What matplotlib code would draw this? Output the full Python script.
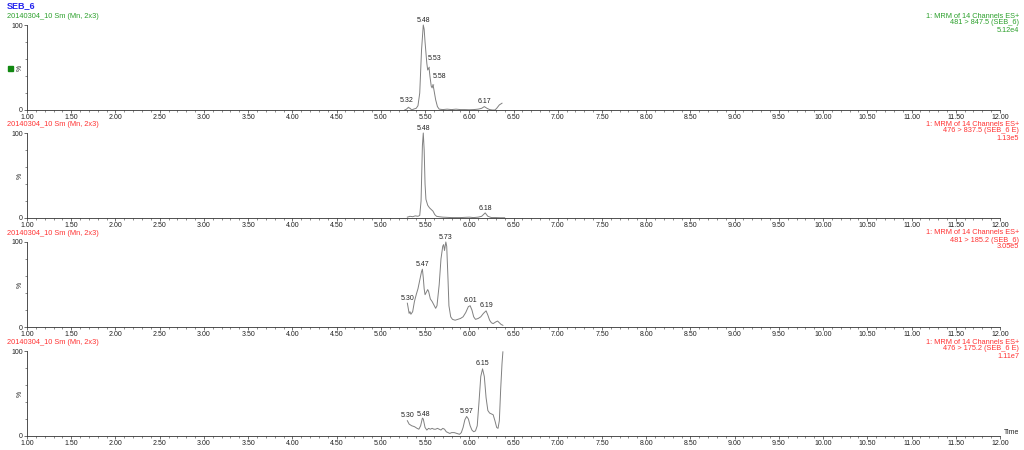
import matplotlib
matplotlib.use("Agg")
import matplotlib.pyplot as plt
from matplotlib.ticker import MultipleLocator, FixedLocator

plt.rcParams['font.family'] = ['Liberation Sans', 'DejaVu Sans']

# ---------------- data ----------------
title = "SEB_6"
sample_label = "20140304_10 Sm (Mn, 2x3)"
channel_lines = [
    ("1: MRM of 14 Channels ES+", "481 > 847.5 (SEB_6)", "5.12e4"),
    ("1: MRM of 14 Channels ES+", "476 > 837.5 (SEB_6 E)", "1.13e5"),
    ("1: MRM of 14 Channels ES+", "481 > 185.2 (SEB_6)", "3.05e5"),
    ("1: MRM of 14 Channels ES+", "476 > 175.2 (SEB_6 E)", "1.11e7"),
]
header_colors = ["#2ca02c", "#ff3333", "#ff3333", "#ff3333"]

t1 = [5.27, 5.29, 5.31, 5.33, 5.35, 5.37, 5.40, 5.42, 5.44, 5.46, 5.48, 5.49, 5.50, 5.52,
      5.53, 5.545, 5.555, 5.57, 5.58, 5.59, 5.60, 5.62, 5.64, 5.66, 5.70, 5.75, 5.80, 5.85,
      5.90, 5.95, 6.00, 6.05, 6.10, 6.14, 6.17, 6.20, 6.23, 6.26, 6.29, 6.31, 6.34, 6.37]
v1 = [0, 1, 3, 2, 0, 1, 2, 5, 20, 70, 100, 95, 80, 55,
      47, 50, 40, 28, 26, 30, 24, 12, 4, 1, 0.5, 1, 0.5, 1,
      0.5, 0.5, 0.3, 0.5, 1, 2, 4, 2, 0.5, 0, 0, 2, 6, 8]

t2 = [5.30, 5.33, 5.36, 5.39, 5.42, 5.44, 5.455, 5.47, 5.48, 5.49, 5.50, 5.51, 5.53, 5.55,
      5.57, 5.59, 5.61, 5.63, 5.66, 5.70, 5.80, 5.90, 6.00, 6.05, 6.10, 6.14, 6.18, 6.21,
      6.25, 6.30, 6.35, 6.40]
v2 = [1, 2, 1.5, 2.5, 2, 3, 20, 85, 100, 80, 40, 22, 15, 12,
      10, 8, 4, 2, 1.5, 1, 0.5, 0.5, 1, 0.5, 1, 2, 6, 2,
      0.5, 0.5, 0.3, 0.3]

t3 = [5.30, 5.31, 5.32, 5.33, 5.34, 5.36, 5.38, 5.40, 5.42, 5.44, 5.46, 5.47, 5.48, 5.49,
      5.50, 5.51, 5.53, 5.54, 5.56, 5.58, 5.60, 5.62, 5.635, 5.66, 5.68, 5.70, 5.71, 5.72,
      5.735, 5.745, 5.76, 5.77, 5.79, 5.81, 5.84, 5.87, 5.90, 5.93, 5.96, 5.99, 6.01, 6.03,
      6.05, 6.07, 6.10, 6.13, 6.16, 6.19, 6.21, 6.23, 6.25, 6.27, 6.30, 6.32, 6.34, 6.36, 6.38]
v3 = [28, 22, 16, 18, 15, 18, 30, 38, 45, 55, 65, 68, 58, 45,
      38, 40, 44, 42, 33, 30, 26, 22, 25, 50, 80, 95, 97, 90,
      100, 95, 55, 25, 12, 9, 8, 9, 10, 12, 17, 24, 25, 20,
      12, 9, 10, 12, 16, 19, 14, 8, 5, 4, 6, 7, 5, 3, 2]

t4 = [5.30, 5.32, 5.35, 5.38, 5.41, 5.43, 5.45, 5.47, 5.48, 5.50, 5.52, 5.54, 5.56, 5.58,
      5.60, 5.62, 5.64, 5.66, 5.68, 5.70, 5.72, 5.74, 5.76, 5.78, 5.80, 5.83, 5.86, 5.89,
      5.91, 5.93, 5.95, 5.97, 5.99, 6.01, 6.03, 6.05, 6.07, 6.09, 6.11, 6.13, 6.15, 6.17,
      6.19, 6.21, 6.23, 6.25, 6.27, 6.29, 6.31, 6.325, 6.34, 6.355, 6.37, 6.38]
v4 = [18, 14, 12, 11, 9, 8, 12, 21, 20, 10, 7, 9, 8, 9,
      8, 8, 9, 8, 7, 9, 8, 5, 4, 3, 4, 4, 3, 2,
      4, 10, 19, 23, 20, 12, 7, 5, 6, 12, 40, 70, 79, 70,
      45, 30, 27, 26, 25, 18, 10, 9, 18, 55, 85, 99]

peaks1_t = [5.32, 5.48, 5.53, 5.58, 6.17]
peaks1_v = [2, 100, 47, 26, 4]
peaks2_t = [5.48, 6.18]
peaks2_v = [100, 6]
peaks3_t = [5.30, 5.47, 5.73, 6.01, 6.19]
peaks3_v = [28, 68, 100, 25, 19]
peaks4_t = [5.30, 5.48, 5.97, 6.15]
peaks4_v = [18, 20, 23, 79]

series = [(t1, v1), (t2, v2), (t3, v3), (t4, v4)]
peaks = [(peaks1_t, peaks1_v), (peaks2_t, peaks2_v), (peaks3_t, peaks3_v), (peaks4_t, peaks4_v)]
# label offsets (points) for a few shifted labels
label_offsets = {(0, 5.53): (5, 6), (0, 5.58): (5, 6), (0, 5.32): (-2, 3)}

x_major = [1.0 + 0.5 * i for i in range(23)]

# ---------------- figure ----------------
W, H = 1024, 450
fig = plt.figure(figsize=(W / 100, H / 100), dpi=100)

left = 27 / W
width = 973 / W
tops = [25, 133, 242, 351]
ph = 85
line_col = "#808080"
axis_col = "#333333"
fs = 5.0
hfs = 5.3

for i, ((t, v), (pt, pv)) in enumerate(zip(series, peaks)):
    top = tops[i]
    ax = fig.add_axes([left, 1 - (top + ph) / H, width, ph / H])
    ax.patch.set_alpha(0)
    ax.plot(t, v, color=line_col, lw=0.7, clip_on=False)
    ax.set_xlim(1.0, 12.0)
    ax.set_ylim(0, 100)
    for s in ["top", "right"]:
        ax.spines[s].set_visible(False)
    for s in ["left", "bottom"]:
        ax.spines[s].set_color(axis_col)
        ax.spines[s].set_linewidth(0.6)
    ax.xaxis.set_major_locator(FixedLocator(x_major))
    ax.set_xticklabels([f"{x:.2f}" for x in x_major])
    ax.xaxis.set_minor_locator(MultipleLocator(0.1))
    ax.set_yticks([0, 100])
    ax.set_yticklabels(["0", "100"])
    ax.yaxis.set_minor_locator(MultipleLocator(20))
    ax.tick_params(axis="both", which="major", labelsize=fs, length=2.5, width=0.5,
                   color=axis_col, pad=0.5, labelcolor="#222222")
    ax.tick_params(axis="both", which="minor", length=1.6, width=0.4, color=axis_col)
    ax.text(-0.0065, 0.5, "%", transform=ax.transAxes, rotation=90, fontsize=fs,
            ha="center", va="center", color="#222222")
    for px, pyv in zip(pt, pv):
        off = label_offsets.get((i, px), (0, 1))
        arrow = dict(arrowstyle="-", color=line_col, lw=0.4) if (i, px) in label_offsets else None
        ax.annotate(f"{px:.2f}", xy=(px, pyv), xytext=off, textcoords="offset points",
                    ha="center", va="bottom", fontsize=fs, color="#222222",
                    arrowprops=arrow, annotation_clip=False)
    # headers
    col = header_colors[i]
    fig.text(7 / W, 1 - (top - 8.5) / H, sample_label, fontsize=hfs, color=col,
             ha="left", va="center")
    for j, line in enumerate(channel_lines[i]):
        fig.text(1019 / W, 1 - (top - 9 + 7 * j) / H, line, fontsize=hfs, color=col,
                 ha="right", va="center")

fig.text(7 / W, 1 - 6 / H, title, fontsize=6.5, color="#2222ee", fontweight="bold",
         ha="left", va="center")
fig.text(1004 / W, 1 - 433 / H, "Time", fontsize=fs, color="#222222", ha="left", va="center")
fig.patches.append(plt.Rectangle((8 / W, 1 - 71 / H), 5 / W, 5 / H, transform=fig.transFigure,
                                 color="#118811", figure=fig))

fig.savefig("out.png", dpi=100)
